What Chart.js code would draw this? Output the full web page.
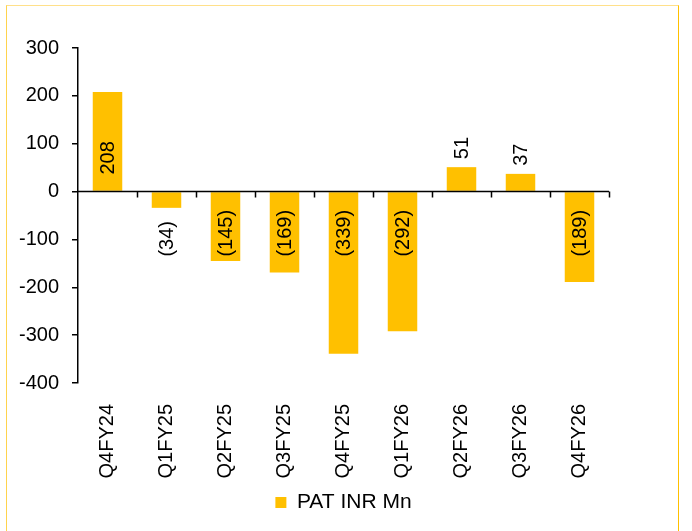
<!DOCTYPE html>
<html>
<head>
<meta charset="utf-8">
<script src="https://cdn.jsdelivr.net/npm/chart.js@4"></script>
<style>
html,body{margin:0;padding:0;background:#fff}
#wrap{position:relative;width:692px;height:531px}
#frame{position:absolute;left:6px;top:5px;width:673px;height:540px;border-top:1px solid #ffe08a;border-left:1px solid #ffd34d;border-right:1.5px solid #ffc000;box-sizing:border-box}
canvas{position:absolute;left:0;top:0}
</style>
</head>
<body>
<div id="wrap">
<div id="frame"></div>
<canvas id="chart" width="692" height="531"></canvas>
</div>
<script>
const quarters=["Q4FY24","Q1FY25","Q2FY25","Q3FY25","Q4FY25","Q1FY26","Q2FY26","Q3FY26","Q4FY26"]
const pat=[208,-34,-145,-169,-339,-292,51,37,-189]
const yTicks=[300,200,100,0,-100,-200,-300,-400]

const FONT="'Liberation Sans', Arial, sans-serif"

function fmt(v){
return v<0?"("+Math.abs(v)+")":String(v)
}

// zero line with category tick marks, like the excel axis
const zeroAxis={
id:"zeroAxis",
afterDatasetsDraw(chart){
const ctx=chart.ctx
const x=chart.scales.x
const y=chart.scales.y
const y0=y.getPixelForValue(0)
const n=quarters.length
const step=(x.right-x.left)/n
ctx.save()
ctx.strokeStyle="#000"
ctx.lineWidth=1.5
ctx.beginPath()
ctx.moveTo(x.left,y0)
ctx.lineTo(x.right,y0)
for(let i=1;i<=n;i++){
const px=Math.round(x.left+i*step)+0.5
ctx.moveTo(px,y0)
ctx.lineTo(px,y0+6)
}
ctx.stroke()
ctx.restore()
}
}

const barLabels={
id:"barLabels",
afterDatasetsDraw(chart){
const ctx=chart.ctx
const y=chart.scales.y
const y0=y.getPixelForValue(0)
const meta=chart.getDatasetMeta(0)
ctx.save()
ctx.font="20px "+FONT
ctx.fillStyle="#000"
ctx.textBaseline="middle"
ctx.textAlign="left"
meta.data.forEach((bar,i)=>{
const v=pat[i]
const txt=fmt(v)
const w=ctx.measureText(txt).width
let start
if(v<0){
start=y0+65
}else if(y0-bar.y>w+25){
start=y0-17
}else{
start=bar.y-8
}
ctx.save()
ctx.translate(bar.x,start)
ctx.rotate(-Math.PI/2)
ctx.fillText(txt,0,1)
ctx.restore()
})
ctx.restore()
}
}

new Chart(document.getElementById("chart"),{
type:"bar",
data:{
labels:quarters,
datasets:[{
label:"PAT INR Mn",
data:pat,
backgroundColor:"#ffc000",
borderWidth:0,
categoryPercentage:1,
barPercentage:0.5
}]
},
options:{
responsive:false,
animation:false,
layout:{padding:{left:0,right:83,top:48,bottom:8}},
plugins:{
legend:{
position:"bottom",
fullSize:false,
labels:{
color:"#000",
font:{family:FONT,size:21},
boxWidth:11,
boxHeight:11,
padding:10
}
},
tooltip:{enabled:false}
},
scales:{
x:{
grid:{display:false,drawTicks:false},
border:{display:false},
afterFit(scale){
scale.height=99
},
ticks:{
color:"#000",
font:{family:FONT,size:20},
minRotation:90,
maxRotation:90,
padding:21
}
},
y:{
min:-400,
max:300,
afterBuildTicks(scale){
scale.ticks=yTicks.map(v=>({value:v}))
},
afterFit(scale){
scale.width=78
},
grid:{drawOnChartArea:false,tickLength:6,color:"#000",lineWidth:1.5},
border:{display:true,color:"#000",width:1.5},
ticks:{
color:"#000",
font:{family:FONT,size:20},
padding:13
}
}
}
},
plugins:[zeroAxis,barLabels]
})
</script>
</body>
</html>
